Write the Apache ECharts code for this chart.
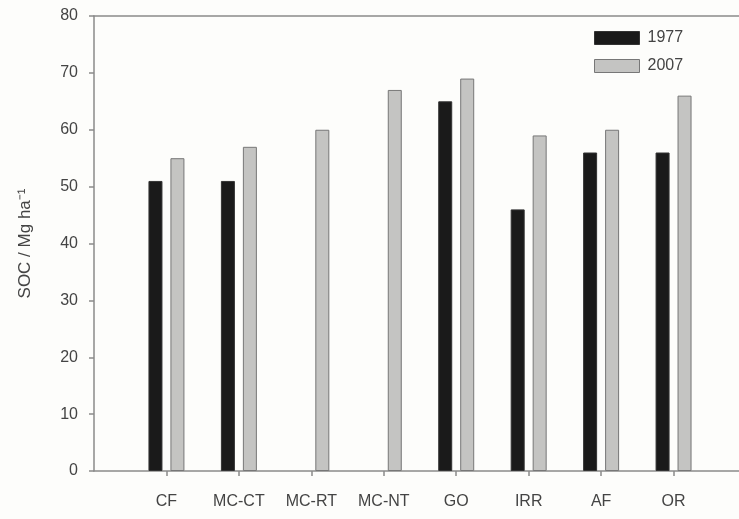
<!DOCTYPE html>
<html>
<head>
<meta charset="utf-8">
<script src="https://cdn.jsdelivr.net/npm/echarts@6/dist/echarts.min.js"></script>
<style>
html,body{margin:0;padding:0;background:#fdfdfb;}
#c{width:739px;height:519px;}
</style>
</head>
<body>
<div id="c"></div>
<script>
const categories = ['CF', 'MC-CT', 'MC-RT', 'MC-NT', 'GO', 'IRR', 'AF', 'OR'];
const soc1977 = [51, 51, null, null, 65, 46, 56, 56];
const soc2007 = [55, 57, 60, 67, 69, 59, 60, 66];
const yTicks = [0, 10, 20, 30, 40, 50, 60, 70, 80];

// pad with empty slots at both ends so that the first category sits one slot from the y axis
const cats = [''].concat(categories, ['']);
const s1 = [null].concat(soc1977, [null]);
const s2 = [null].concat(soc2007, [null]);

const chart = echarts.init(document.getElementById('c'), null, {renderer: 'canvas'});
const font = 'Liberation Sans, Arial, sans-serif';
const axisColor = '#8a8a8a';
chart.setOption({
  backgroundColor: '#fdfdfb',
  animation: false,
  grid: {
    left: 94, top: 16, width: 652, height: 455,
    outerBoundsMode: 'none',
    containLabel: false,
    show: false
  },
  legend: {
    left: 589, top: 25, orient: 'vertical',
    itemWidth: 45, itemHeight: 13, itemGap: 12,
    textStyle: {fontFamily: font, fontSize: 16, color: '#444', padding: [0, 0, 0, 3]},
    data: [
      {name: '1977', icon: 'rect', itemStyle: {color: '#1a1a1a', borderColor: '#333', borderWidth: 1}},
      {name: '2007', icon: 'rect', itemStyle: {color: '#c4c4c2', borderColor: '#777', borderWidth: 1}}
    ]
  },
  xAxis: [{
    type: 'category',
    data: cats,
    boundaryGap: false,
    axisLine: {lineStyle: {color: axisColor, width: 1.5}},
    axisTick: {show: true, length: 5, inside: false, lineStyle: {color: axisColor, width: 1.5},
      interval: function (i) { return i > 0 && i < cats.length - 1; }},
    axisLabel: {fontFamily: font, fontSize: 16, color: '#444', margin: 23, interval: 0},
    splitLine: {show: false}
  }, {
    type: 'category',
    position: 'top',
    data: cats,
    boundaryGap: false,
    axisLine: {show: true, lineStyle: {color: axisColor, width: 1.5}},
    axisTick: {show: false},
    axisLabel: {show: false},
    splitLine: {show: false}
  }],
  yAxis: {
    type: 'value',
    min: yTicks[0], max: yTicks[yTicks.length - 1], interval: 10,
    name: 'SOC / Mg ha⁻¹',
    nameLocation: 'middle',
    nameGap: 60,
    nameRotate: 90,
    nameTextStyle: {fontFamily: font, fontSize: 17, color: '#444'},
    axisLine: {show: true, lineStyle: {color: axisColor, width: 1.5}},
    axisTick: {show: true, length: 5, lineStyle: {color: axisColor, width: 1.5}},
    axisLabel: {fontFamily: font, fontSize: 16, color: '#444', margin: 16},
    splitLine: {show: false}
  },
  series: [
    {
      name: '1977', type: 'bar', data: s1,
      barWidth: 14, barGap: '57%',
      itemStyle: {color: '#1a1a1a', borderColor: '#333', borderWidth: 1}
    },
    {
      name: '2007', type: 'bar', data: s2,
      barWidth: 14,
      itemStyle: {color: '#c4c4c2', borderColor: '#777', borderWidth: 1}
    }
  ]
});
</script>
</body>
</html>
